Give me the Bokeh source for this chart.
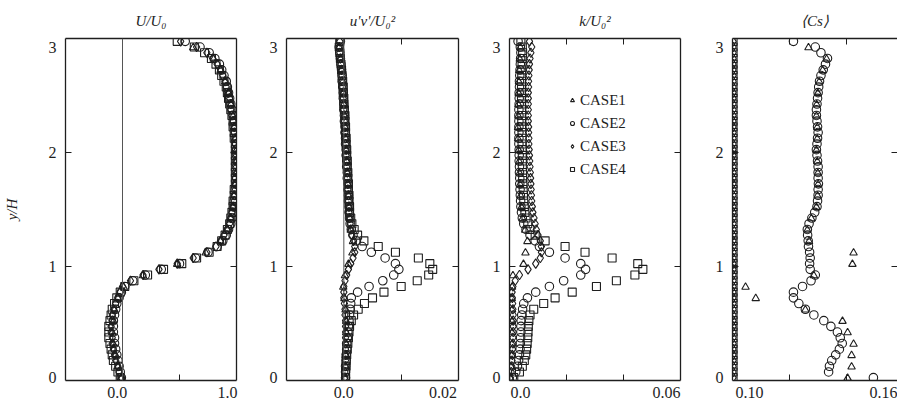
from bokeh.plotting import figure
from bokeh.layouts import row
from bokeh.models import Range1d, FixedTicker, LinearAxis, Span, Legend, LegendItem
from bokeh.embed import file_html
from bokeh.resources import INLINE

FONT = "Liberation Serif"
INK = "#1e1e1e"

# ---------------- data ----------------
CASES = ["CASE1", "CASE2", "CASE3", "CASE4"]

# measurement heights (CASE2-4) and coarser heights (CASE1)
Y = [0.025, 0.075, 0.125, 0.175, 0.225, 0.275, 0.325, 0.375, 0.425, 0.475,
     0.525, 0.575, 0.625, 0.675, 0.725, 0.775, 0.825, 0.875, 0.925, 0.975,
     1.025, 1.075, 1.125, 1.175, 1.225, 1.275, 1.325, 1.375, 1.425, 1.475,
     1.525, 1.575, 1.625, 1.675, 1.725, 1.775, 1.825, 1.875, 1.925, 1.975,
     2.025, 2.075, 2.125, 2.175, 2.225, 2.275, 2.325, 2.375, 2.425, 2.475,
     2.525, 2.575, 2.625, 2.675, 2.725, 2.775, 2.825, 2.875, 2.925, 2.975]
Y1 = [0.02, 0.12, 0.22, 0.32, 0.42, 0.52, 0.62, 0.72, 0.82, 0.92,
      1.02, 1.12, 1.22, 1.32, 1.42, 1.52, 1.62, 1.72, 1.82, 1.92,
      2.02, 2.12, 2.22, 2.32, 2.42, 2.52, 2.62, 2.72, 2.82, 2.92]

# U/U0
U_C1 = [-0.01, -0.04, -0.06, -0.08, -0.09, -0.08, -0.07, -0.04, 0.01, 0.18,
        0.48, 0.73, 0.86, 0.92, 0.95, 0.97, 0.98, 0.99, 1.00, 1.00,
        1.00, 0.99, 0.98, 0.97, 0.95, 0.93, 0.90, 0.86, 0.80, 0.62]
U_C2 = [-0.01, -0.02, -0.03, -0.04, -0.05, -0.06, -0.07, -0.07, -0.08, -0.08,
        -0.08, -0.07, -0.06, -0.05, -0.03, -0.01, 0.02, 0.09, 0.20, 0.34,
        0.50, 0.64, 0.75, 0.83, 0.88, 0.91, 0.93, 0.95, 0.96, 0.97,
        0.98, 0.98, 0.99, 0.99, 1.00, 1.00, 1.00, 1.00, 1.00, 1.00,
        1.00, 1.00, 0.99, 0.99, 0.98, 0.98, 0.97, 0.96, 0.95, 0.94,
        0.93, 0.92, 0.91, 0.89, 0.87, 0.85, 0.81, 0.76, 0.68, 0.55]
U_C3 = [-0.01, -0.03, -0.04, -0.06, -0.07, -0.08, -0.09, -0.09, -0.10, -0.10,
        -0.09, -0.09, -0.08, -0.06, -0.04, -0.02, 0.00, 0.07, 0.18, 0.32,
        0.48, 0.62, 0.74, 0.82, 0.86, 0.89, 0.92, 0.94, 0.95, 0.96,
        0.97, 0.98, 0.98, 0.99, 0.99, 0.99, 1.00, 1.00, 1.00, 1.00,
        0.99, 0.99, 0.99, 0.98, 0.98, 0.97, 0.96, 0.95, 0.95, 0.94,
        0.93, 0.91, 0.90, 0.88, 0.86, 0.83, 0.79, 0.74, 0.65, 0.51]
U_C4 = [-0.02, -0.04, -0.06, -0.08, -0.09, -0.10, -0.11, -0.12, -0.12, -0.12,
        -0.11, -0.10, -0.09, -0.07, -0.05, -0.02, 0.02, 0.10, 0.22, 0.36,
        0.52, 0.65, 0.76, 0.83, 0.87, 0.90, 0.92, 0.94, 0.95, 0.96,
        0.97, 0.97, 0.98, 0.98, 0.99, 0.99, 0.99, 0.99, 0.99, 0.99,
        0.99, 0.99, 0.98, 0.98, 0.97, 0.97, 0.96, 0.95, 0.94, 0.93,
        0.92, 0.91, 0.89, 0.87, 0.85, 0.82, 0.78, 0.72, 0.63, 0.48]

# u'v'/U0^2
UV_C1 = [0.0002, 0.0003, 0.0003, 0.0004, 0.0004, 0.0004, 0.0003, 0.0001, -0.0001, 0.0002,
         0.0008, 0.0015, 0.0016, 0.0012, 0.0010, 0.0009, 0.0008, 0.0007, 0.0006, 0.0005,
         0.0004, 0.0003, 0.0002, 0.0001, 0.0000, -0.0001, -0.0002, -0.0004, -0.0006, -0.0008]
UV_C2 = [0.0003, 0.0003, 0.0003, 0.0004, 0.0004, 0.0005, 0.0005, 0.0006, 0.0007, 0.0008,
         0.0009, 0.0010, 0.0011, 0.0012, 0.0013, 0.0024, 0.0044, 0.0068, 0.0087, 0.0096,
         0.0090, 0.0072, 0.0048, 0.0032, 0.0022, 0.0016, 0.0013, 0.0011, 0.0010, 0.0009,
         0.0009, 0.0008, 0.0008, 0.0007, 0.0007, 0.0006, 0.0006, 0.0005, 0.0005, 0.0004,
         0.0004, 0.0003, 0.0003, 0.0002, 0.0002, 0.0001, 0.0001, 0.0000, 0.0000, -0.0001,
         -0.0001, -0.0002, -0.0003, -0.0003, -0.0004, -0.0005, -0.0006, -0.0007, -0.0008, -0.0006]
UV_C3 = [0.0002, 0.0002, 0.0003, 0.0003, 0.0003, 0.0003, 0.0003, 0.0003, 0.0003, 0.0003,
         0.0003, 0.0002, 0.0002, 0.0001, 0.0000, 0.0000, 0.0000, 0.0002, 0.0005, 0.0008,
         0.0012, 0.0016, 0.0019, 0.0019, 0.0017, 0.0014, 0.0012, 0.0011, 0.0010, 0.0009,
         0.0009, 0.0008, 0.0008, 0.0007, 0.0007, 0.0006, 0.0006, 0.0005, 0.0005, 0.0004,
         0.0004, 0.0003, 0.0003, 0.0002, 0.0002, 0.0001, 0.0001, 0.0000, 0.0000, -0.0001,
         -0.0001, -0.0002, -0.0003, -0.0003, -0.0004, -0.0005, -0.0006, -0.0007, -0.0008, -0.0007]
UV_C4 = [0.0003, 0.0003, 0.0004, 0.0004, 0.0005, 0.0006, 0.0007, 0.0008, 0.0009, 0.0010,
         0.0013, 0.0017, 0.0025, 0.0036, 0.0050, 0.0070, 0.0100, 0.0128, 0.0148, 0.0155,
         0.0150, 0.0130, 0.0090, 0.0060, 0.0035, 0.0024, 0.0018, 0.0014, 0.0012, 0.0010,
         0.0010, 0.0009, 0.0009, 0.0008, 0.0008, 0.0007, 0.0007, 0.0006, 0.0006, 0.0005,
         0.0005, 0.0004, 0.0004, 0.0003, 0.0003, 0.0002, 0.0002, 0.0001, 0.0000, 0.0000,
         -0.0001, -0.0001, -0.0002, -0.0003, -0.0004, -0.0005, -0.0006, -0.0007, -0.0008, -0.0007]

# k/U0^2
K_C1 = [0.0003, 0.0006, 0.0008, 0.0009, 0.0009, 0.0009, 0.0009, 0.0008, 0.0009, 0.0012,
        0.0049, 0.0056, 0.0063, 0.0055, 0.0046, 0.0042, 0.0039, 0.0037, 0.0035, 0.0034,
        0.0032, 0.0030, 0.0030, 0.0031, 0.0031, 0.0032, 0.0033, 0.0034, 0.0036, 0.0038]
K_C2 = [0.0010, 0.0022, 0.0028, 0.0032, 0.0035, 0.0037, 0.0038, 0.0039, 0.0040, 0.0040,
        0.0041, 0.0043, 0.0046, 0.0050, 0.0063, 0.0092, 0.0140, 0.0190, 0.0250, 0.0267,
        0.0250, 0.0195, 0.0140, 0.0105, 0.0090, 0.0072, 0.0058, 0.0050, 0.0045, 0.0042,
        0.0040, 0.0039, 0.0038, 0.0037, 0.0036, 0.0036, 0.0035, 0.0035, 0.0034, 0.0034,
        0.0034, 0.0033, 0.0033, 0.0033, 0.0033, 0.0033, 0.0033, 0.0033, 0.0034, 0.0034,
        0.0034, 0.0035, 0.0035, 0.0036, 0.0037, 0.0038, 0.0039, 0.0040, 0.0038, 0.0030]
K_C3 = [0.0003, 0.0006, 0.0008, 0.0009, 0.0010, 0.0011, 0.0012, 0.0012, 0.0013, 0.0013,
        0.0013, 0.0013, 0.0012, 0.0011, 0.0010, 0.0009, 0.0012, 0.0020, 0.0035, 0.0065,
        0.0092, 0.0108, 0.0112, 0.0112, 0.0108, 0.0100, 0.0094, 0.0090, 0.0086, 0.0082,
        0.0080, 0.0078, 0.0077, 0.0076, 0.0075, 0.0074, 0.0073, 0.0072, 0.0071, 0.0070,
        0.0069, 0.0068, 0.0068, 0.0067, 0.0067, 0.0066, 0.0066, 0.0066, 0.0066, 0.0066,
        0.0066, 0.0067, 0.0067, 0.0068, 0.0069, 0.0070, 0.0072, 0.0075, 0.0078, 0.0070]
K_C4 = [0.0015, 0.0035, 0.0045, 0.0052, 0.0057, 0.0060, 0.0062, 0.0064, 0.0065, 0.0066,
        0.0068, 0.0072, 0.0085, 0.0120, 0.0160, 0.0220, 0.0305, 0.0375, 0.0440, 0.0468,
        0.0450, 0.0360, 0.0265, 0.0195, 0.0125, 0.0090, 0.0072, 0.0064, 0.0058, 0.0054,
        0.0052, 0.0050, 0.0049, 0.0048, 0.0047, 0.0046, 0.0046, 0.0045, 0.0045, 0.0045,
        0.0045, 0.0044, 0.0044, 0.0044, 0.0043, 0.0043, 0.0043, 0.0043, 0.0042, 0.0042,
        0.0042, 0.0042, 0.0042, 0.0043, 0.0043, 0.0044, 0.0045, 0.0046, 0.0045, 0.0040]

# <Cs>
CS_C1 = [0.1404, 0.1418, 0.1418, 0.1425, 0.1404, 0.1386, 0.1255, 0.1080, 0.1044, 0.1285,
         0.1421, 0.1425, 0.1268, 0.1262, 0.1276, 0.1294, 0.1298, 0.1300, 0.1299, 0.1297,
         0.1294, 0.1297, 0.1297, 0.1294, 0.1295, 0.1299, 0.1304, 0.1316, 0.1330, 0.1266]
CS_C2 = [0.1495, 0.1337, 0.1340, 0.1348, 0.1362, 0.1375, 0.1385, 0.1378, 0.1368, 0.1345,
         0.1320, 0.1285, 0.1255, 0.1232, 0.1213, 0.1213, 0.1245, 0.1275, 0.1290, 0.1272,
         0.1270, 0.1272, 0.1270, 0.1266, 0.1265, 0.1263, 0.1262, 0.1268, 0.1278, 0.1288,
         0.1296, 0.1298, 0.1300, 0.1300, 0.1301, 0.1300, 0.1300, 0.1300, 0.1298, 0.1296,
         0.1294, 0.1296, 0.1298, 0.1300, 0.1298, 0.1296, 0.1294, 0.1294, 0.1296, 0.1298,
         0.1300, 0.1302, 0.1305, 0.1310, 0.1318, 0.1326, 0.1333, 0.1310, 0.1290, 0.1213]
CS_C3 = [0.10, 0.10, 0.10, 0.10, 0.10, 0.10, 0.10, 0.10, 0.10, 0.10,
         0.10, 0.10, 0.10, 0.10, 0.10, 0.10, 0.10, 0.10, 0.10, 0.10,
         0.10, 0.10, 0.10, 0.10, 0.10, 0.10, 0.10, 0.10, 0.10, 0.10,
         0.10, 0.10, 0.10, 0.10, 0.10, 0.10, 0.10, 0.10, 0.10, 0.10,
         0.10, 0.10, 0.10, 0.10, 0.10, 0.10, 0.10, 0.10, 0.10, 0.10,
         0.10, 0.10, 0.10, 0.10, 0.10, 0.10, 0.10, 0.10, 0.10, 0.10]
CS_C4 = [0.10, 0.10, 0.10, 0.10, 0.10, 0.10, 0.10, 0.10, 0.10, 0.10,
         0.10, 0.10, 0.10, 0.10, 0.10, 0.10, 0.10, 0.10, 0.10, 0.10,
         0.10, 0.10, 0.10, 0.10, 0.10, 0.10, 0.10, 0.10, 0.10, 0.10,
         0.10, 0.10, 0.10, 0.10, 0.10, 0.10, 0.10, 0.10, 0.10, 0.10,
         0.10, 0.10, 0.10, 0.10, 0.10, 0.10, 0.10, 0.10, 0.10, 0.10,
         0.10, 0.10, 0.10, 0.10, 0.10, 0.10, 0.10, 0.10, 0.10, 0.10]

TITLES = ["U/U\u2080", "u'v'/U\u2080\u00b2", "k/U\u2080\u00b2", "\u27e8Cs\u27e9"]
Y_LABEL = "y/H"
Y_TICK_POS = [0.026, 1, 2, 2.92]
Y_TICK_TXT = ["0", "1", "2", "3"]
X_RANGES = [(-0.5, 1.0), (-0.01, 0.02), (0.0, 0.06), (0.0998, 0.1580)]
X_LABEL_POS = [[-0.045, 0.92], [0.0, 0.0173], [0.0039, 0.0551], [0.1058, 0.1532]]
X_LABEL_TXT = [["0.0", "1.0"], ["0.0", "0.02"], ["0.0", "0.06"], ["0.10", "0.16"]]
X_MINOR = [[0.5], [0.01], [0.02, 0.04], [0.12, 0.14]]
X_TOP = [[], [0.01], [0.02, 0.04], [0.12, 0.14]]

SERIES = [
    [(Y1, U_C1), (Y, U_C2), (Y, U_C3), (Y, U_C4)],
    [(Y1, UV_C1), (Y, UV_C2), (Y, UV_C3), (Y, UV_C4)],
    [(Y1, K_C1), (Y, K_C2), (Y, K_C3), (Y, K_C4)],
    [(Y1, CS_C1), (Y, CS_C2), (Y, CS_C3), (Y, CS_C4)],
]
MARKERS = [("triangle", 7.5), ("circle", 8.5), ("diamond", 9.5), ("square", 8)]

# layout (pixels): widths, left/right borders
WIDTHS = [261, 223, 224, 189]
LEFTS = [65, 25, 25, 24]
RIGHTS = [25, 26, 28, 0]


def text_style(ax):
    ax.major_label_text_font = FONT
    ax.major_label_text_font_size = "16px"
    ax.major_label_text_color = INK
    ax.axis_label_text_font = FONT
    ax.axis_label_text_font_size = "15px"
    ax.axis_label_text_font_style = "italic"
    ax.axis_label_text_color = INK


def ticks_only(ax):
    # tick marks come from minor ticks only, so no tick labels exist
    ax.major_tick_line_color = None
    ax.major_tick_in = 0
    ax.major_tick_out = 0
    ax.major_label_standoff = 0
    ax.minor_tick_in = 6
    ax.minor_tick_out = 0
    ax.minor_tick_line_color = INK
    ax.axis_line_width = 1.3


figs = []
for i in range(4):
    p = figure(width=WIDTHS[i], height=412,
               x_range=Range1d(*X_RANGES[i]), y_range=Range1d(0, 3),
               output_backend="svg", toolbar_location=None,
               x_axis_location=None, y_axis_location=None,
               min_border_left=LEFTS[i], min_border_right=RIGHTS[i],
               min_border_top=38, min_border_bottom=32)
    p.grid.visible = False
    p.outline_line_color = None
    p.background_fill_color = "white"
    p.border_fill_color = "white"

    # bottom axis: labels + inward tick marks
    b = LinearAxis(ticker=FixedTicker(ticks=X_LABEL_POS[i], minor_ticks=X_MINOR[i]),
                   major_label_overrides=dict(zip(X_LABEL_POS[i], X_LABEL_TXT[i])))
    text_style(b)
    b.major_tick_in = 0
    b.major_tick_out = 0
    b.minor_tick_in = 6
    b.minor_tick_out = 0
    b.minor_tick_line_color = INK
    b.axis_line_color = INK
    b.axis_line_width = 1.3
    b.major_label_standoff = 6
    p.add_layout(b, "below")

    # top axis: inward ticks + panel title
    t = LinearAxis(ticker=FixedTicker(ticks=[], minor_ticks=X_TOP[i]), axis_label=TITLES[i])
    text_style(t)
    ticks_only(t)
    t.axis_line_color = INK
    t.axis_label_standoff = 10
    p.add_layout(t, "above")

    # left axis
    l = LinearAxis(ticker=FixedTicker(ticks=Y_TICK_POS, minor_ticks=[1, 2]),
                   major_label_overrides=dict(zip(Y_TICK_POS, Y_TICK_TXT)))
    text_style(l)
    l.major_tick_in = 0
    l.major_tick_out = 0
    l.minor_tick_in = 6
    l.minor_tick_out = 0
    l.minor_tick_line_color = INK
    l.axis_line_color = INK
    l.axis_line_width = 1.3
    l.major_label_standoff = 9
    if i == 0:
        l.axis_label = Y_LABEL
        l.axis_label_standoff = 26
    p.add_layout(l, "left")

    # right axis: inward ticks only
    r = LinearAxis(ticker=FixedTicker(ticks=[], minor_ticks=[1, 2]))
    ticks_only(r)
    r.axis_line_color = INK if i < 3 else None
    p.add_layout(r, "right")

    if i < 2:
        p.add_layout(Span(location=0, dimension="height", line_color="#555555", line_width=1))

    rends = []
    for (yy, xx), (mk, sz) in zip(SERIES[i], MARKERS):
        rr = p.scatter(x=xx, y=yy, marker=mk, size=sz, line_color=INK,
                       line_width=1.1, fill_color=None)
        rends.append(rr)

    if i == 2:
        leg = Legend(items=[LegendItem(label=c, renderers=[rr]) for c, rr in zip(CASES, rends)],
                     location=(58, 201))
        leg.label_text_font = FONT
        leg.label_text_font_size = "15px"
        leg.label_text_color = INK
        leg.glyph_width = 10
        leg.glyph_height = 20
        leg.label_height = 20
        leg.label_standoff = 3
        leg.spacing = 3
        leg.padding = 0
        leg.margin = 0
        leg.border_line_color = None
        leg.background_fill_alpha = 0
        p.add_layout(leg, "center")
    figs.append(p)

layout = row(*figs, spacing=0)
open("out.html", "w").write(file_html(layout, INLINE))
